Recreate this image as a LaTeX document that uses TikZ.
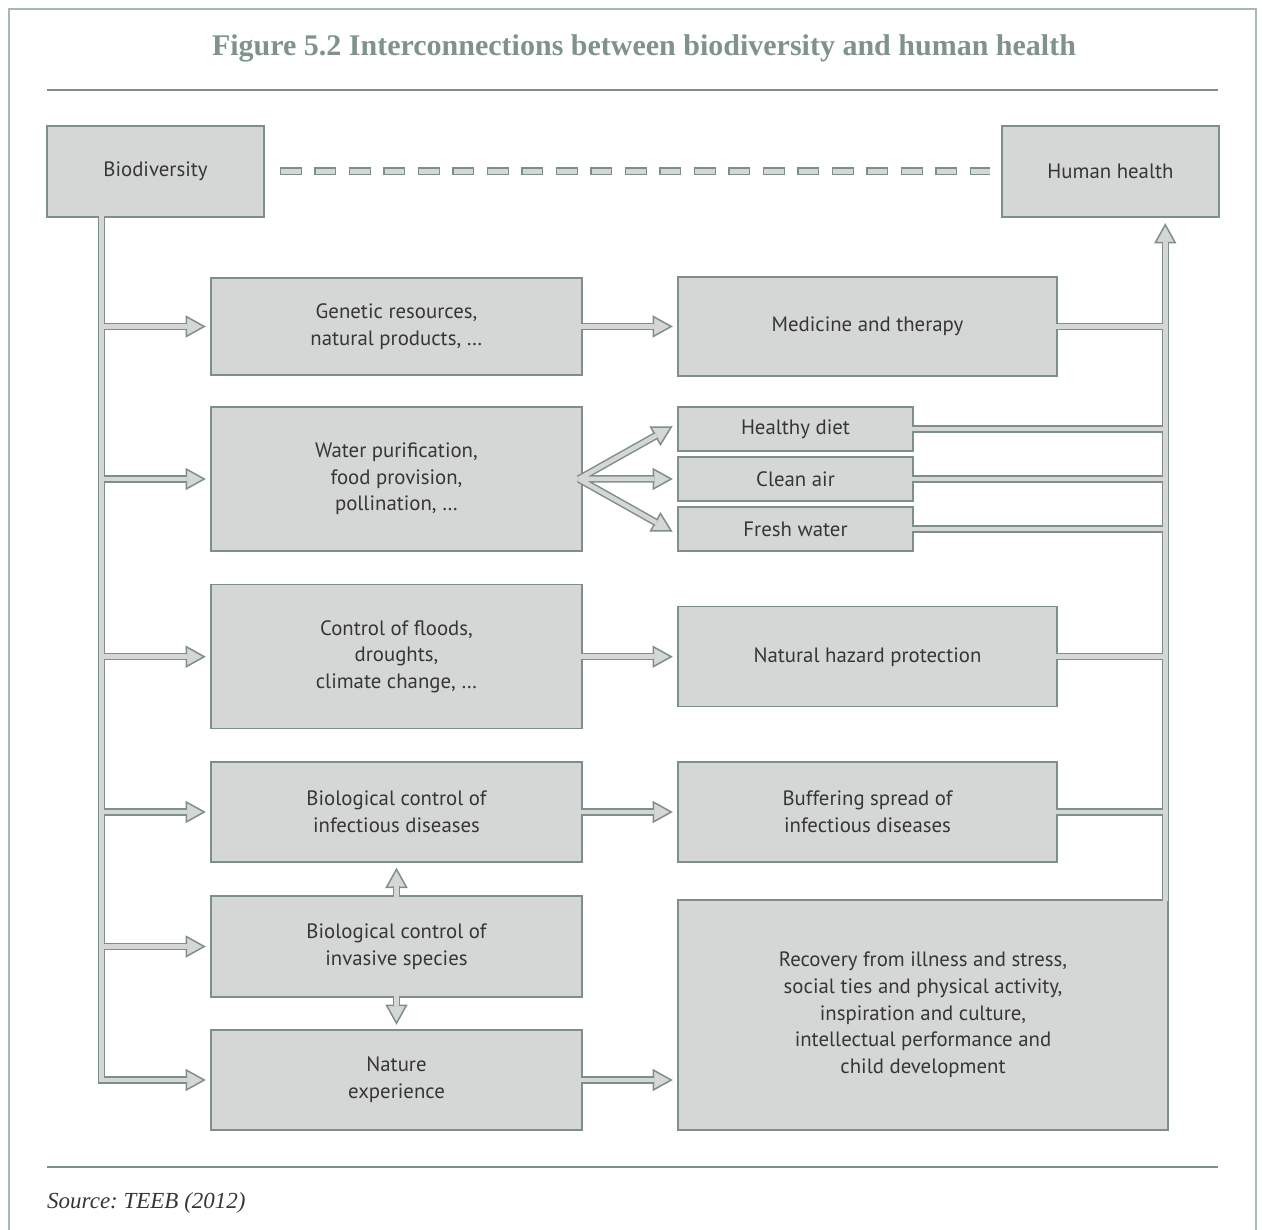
\documentclass[tikz,border=0pt]{standalone}
\usepackage{fontspec}
\setmainfont{PT Sans}
\newfontfamily\titlefont{Liberation Serif}
\usetikzlibrary{calc}
\frenchspacing

\definecolor{boxfill}{HTML}{D5D7D6}
\definecolor{boxline}{HTML}{7D8F88}
\definecolor{framegray}{HTML}{AAB8B2}
\definecolor{inkgray}{HTML}{363636}
\definecolor{titlegreen}{HTML}{7F938B}

% hollow arrow head: #1 = from, #2 = tip, #3 = name for the end of the bar
\newcommand{\fathead}[3]{%
  \path ($(#2)!17pt!(#1)$) coordinate (#3);
  \draw[fathead] ($(#2)!18pt!(#1)$) coordinate (hb)
    ($(hb)!10pt!90:(#2)$) -- (#2) -- ($(hb)!10pt!-90:(#2)$) -- cycle;}

\begin{document}
\begin{tikzpicture}
[x=1pt, y=-1pt,
box/.style={rectangle, draw=boxline, fill=boxfill, line width=1.5pt,
text=inkgray, align=center, inner sep=0pt,
font=\fontsize{20.8}{26.7}\selectfont},
fatbar/.style={draw=boxline, double=boxfill, double distance=4.5pt,
line width=1.5pt},
fathead/.style={draw=boxline, fill=boxfill, line width=1.5pt, line join=miter},
dashout/.style={draw=boxline, line width=8pt, dash pattern=on 22pt off 12.5pt},
dashin/.style={draw=boxfill, line width=5pt, dash pattern=on 19.5pt off 15pt,
dash phase=33.25pt},
rule/.style={draw=boxline, line width=2pt},
]
\useasboundingbox (0,0) rectangle (1262,1230);

% frame, title and source
\draw[framegray, line width=1.5pt] (9,1231) -- (9,9) -- (1256,9) -- (1256,1231);
\node[text=titlegreen, font=\titlefont\bfseries\fontsize{30}{34}\selectfont]
  (title) at (644,48) {Figure 5.2 Interconnections between biodiversity and human health};
\draw[rule] (47,90) -- (1218,90);
\draw[rule] (47,1167) -- (1218,1167);
\node[anchor=west, text=inkgray, inner sep=0pt,
  font=\titlefont\itshape\fontsize{23}{27}\selectfont]
  (src) at (47,1203) {Source: TEEB (2012)};

% top row
\node[box, minimum width=217pt, minimum height=91pt] (bio) at (155.5,171.5) {Biodiversity};
\node[box, minimum width=217pt, minimum height=91pt] (hh) at (1110.5,171.5) {Human health};

% column of services
\node[box, minimum width=371pt, minimum height=97pt] (gen) at (396.5,326.5)
  {Genetic resources,\\natural products, \dots};
\node[box, minimum width=371pt, minimum height=144pt] (water) at (396.5,479)
  {Water purification,\\food provision,\\pollination, \dots};
\node[box, minimum width=371pt, minimum height=144pt] (flood) at (396.5,656.7)
  {Control of floods,\\droughts,\\climate change, \dots};
\node[box, minimum width=371pt, minimum height=100pt] (bioinf) at (396.5,812)
  {Biological control of\\infectious diseases};
\node[box, minimum width=371pt, minimum height=101pt] (bioinv) at (396.5,946.5)
  {Biological control of\\invasive species};
\node[box, minimum width=371pt, minimum height=100pt] (nat) at (396.5,1080)
  {Nature\\experience};

% column of benefits
\node[box, minimum width=379pt, minimum height=99pt] (med) at (867.5,326.5)
  {Medicine and therapy};
\node[box, minimum width=235pt, minimum height=44pt] (diet) at (795.5,429) {Healthy diet};
\node[box, minimum width=235pt, minimum height=44pt] (air) at (795.5,479) {Clean air};
\node[box, minimum width=235pt, minimum height=44pt] (fresh) at (795.5,529) {Fresh water};
\node[box, minimum width=379pt, minimum height=100pt] (haz) at (867.5,656.7)
  {Natural hazard protection};
\node[box, minimum width=379pt, minimum height=100pt] (buf) at (867.5,812)
  {Buffering spread of\\infectious diseases};
\node[box, minimum width=490pt, minimum height=230pt] (rec) at (923,1015)
  {Recovery from illness and stress,\\social ties and physical activity,\\
   inspiration and culture,\\intellectual performance and\\child development};

% dashed link
\coordinate (d-start) at ($(bio.east)+(15,0)$);
\coordinate (d-end) at ($(hh.west)+(-11,0)$);
\draw[dashout] (d-start) -- (d-end);
\draw[dashin] (d-start) -- (d-end);

% left bus
\coordinate (ltop) at ($(bio.south west)+(55,-2)$);
\coordinate (lbot) at (ltop |- nat.west);
\coordinate (t-gen) at ($(gen.west)+(-6,0)$);
\coordinate (t-water) at ($(water.west)+(-6,0)$);
\coordinate (t-flood) at ($(flood.west)+(-6,0)$);
\coordinate (t-bioinf) at ($(bioinf.west)+(-6,0)$);
\coordinate (t-bioinv) at ($(bioinv.west)+(-6,0)$);
\coordinate (t-nat) at ($(nat.west)+(-6,0)$);
\fathead{ltop |- t-gen}{t-gen}{b-gen}
\fathead{ltop |- t-water}{t-water}{b-water}
\fathead{ltop |- t-flood}{t-flood}{b-flood}
\fathead{ltop |- t-bioinf}{t-bioinf}{b-bioinf}
\fathead{ltop |- t-bioinv}{t-bioinv}{b-bioinv}
\fathead{lbot}{t-nat}{b-nat}
\draw[fatbar] (ltop) -- (lbot) -- (b-nat)
  (ltop |- t-gen) -- (b-gen)
  (ltop |- t-water) -- (b-water)
  (ltop |- t-flood) -- (b-flood)
  (ltop |- t-bioinf) -- (b-bioinf)
  (ltop |- t-bioinv) -- (b-bioinv);

% services to benefits
\coordinate (t-med) at ($(med.west)+(-6,0)$);
\coordinate (t-haz) at ($(haz.west)+(-6,0)$);
\coordinate (t-buf) at ($(buf.west)+(-6,0)$);
\coordinate (t-rec) at ($(rec.west |- nat.east)+(-6,0)$);
\fathead{gen.east}{t-med}{b-med}
\fathead{flood.east}{t-haz}{b-haz}
\fathead{bioinf.east}{t-buf}{b-buf}
\fathead{nat.east}{t-rec}{b-rec}
\draw[fatbar] ($(gen.east)+(-2,0)$) -- (b-med);
\draw[fatbar] ($(flood.east)+(-2,0)$) -- (b-haz);
\draw[fatbar] ($(bioinf.east)+(-2,0)$) -- (b-buf);
\draw[fatbar] ($(nat.east)+(-2,0)$) -- (b-rec);

% fan out of water purification
\coordinate (fan) at ($(water.east)+(-4,0)$);
\coordinate (t-diet) at ($(diet.west)+(-6,-2)$);
\coordinate (t-air) at ($(air.west)+(-6,0)$);
\coordinate (t-fresh) at ($(fresh.west)+(-6,2)$);
\fathead{fan}{t-diet}{b-diet}
\fathead{fan}{t-air}{b-air}
\fathead{fan}{t-fresh}{b-fresh}
\draw[fatbar] (fan) -- (b-diet) (fan) -- (b-air) (fan) -- (b-fresh);

% invasive species both ways
\coordinate (t-up) at ($(bioinf.south)+(0,6.5)$);
\coordinate (t-down) at ($(nat.north)+(0,-6)$);
\fathead{bioinv.north}{t-up}{b-up}
\fathead{bioinv.south}{t-down}{b-down}
\draw[fatbar] ($(bioinv.north)+(0,2)$) -- (b-up);
\draw[fatbar] ($(bioinv.south)+(0,-2)$) -- (b-down);

% right bus
\coordinate (rbot) at ($(rec.north east)+(-3.5,2)$);
\coordinate (t-hh) at ($(rbot |- hh.south)+(0,7)$);
\fathead{rbot}{t-hh}{b-hh}
\draw[fatbar] (rbot) -- (b-hh)
  ($(med.east)+(-2,0)$) -- (rbot |- med.east)
  ($(diet.east)+(-2,0)$) -- (rbot |- diet.east)
  ($(air.east)+(-2,0)$) -- (rbot |- air.east)
  ($(fresh.east)+(-2,0)$) -- (rbot |- fresh.east)
  ($(haz.east)+(-2,0)$) -- (rbot |- haz.east)
  ($(buf.east)+(-2,0)$) -- (rbot |- buf.east);
\end{tikzpicture}
\end{document}
